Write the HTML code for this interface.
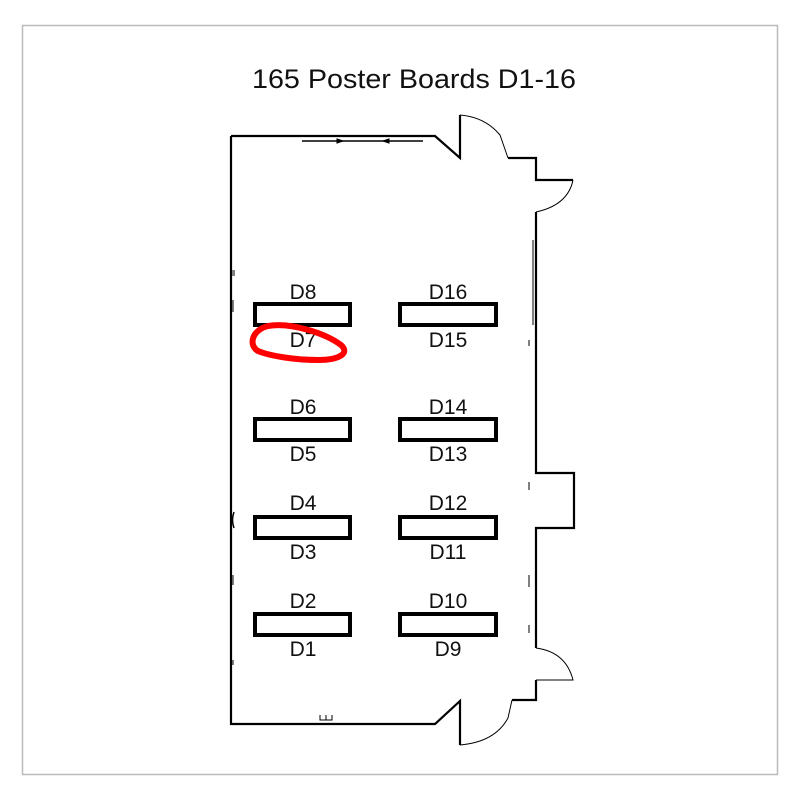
<!DOCTYPE html>
<html><head><meta charset="utf-8"><style>
html,body{margin:0;padding:0;background:#fff;}
svg{display:block}
text{font-family:"Liberation Sans",sans-serif;fill:#111}
</style></head><body>
<svg width="800" height="800" viewBox="0 0 800 800" xmlns="http://www.w3.org/2000/svg">
<rect x="22.5" y="25.5" width="755" height="749" fill="#fff" stroke="#bbb" stroke-width="1.5"/>
<text x="414" y="88" font-size="27" text-anchor="middle" textLength="324" lengthAdjust="spacingAndGlyphs">165 Poster Boards D1-16</text>
<g fill="none" stroke="#000" stroke-width="2.2" stroke-linejoin="miter">
<path d="M231,136 H435 L460,158 V115"/>
<path d="M508,158 H536 V180 H573"/>
<path d="M536,212 V473 H574 V528 H536 V648"/>
<path d="M536,680 V700 H512"/>
<path d="M460,745 V701 L435,724 H231 V136"/>
</g>
<g fill="none" stroke="#000" stroke-width="1">
<path d="M460,115 Q485,117 500,135 L508,158"/>
<path d="M573,180 Q568,205 536,212"/>
<path d="M536,648 Q566,652 573,680 H536"/>
<path d="M512,700 L508,718 Q495,742 460,745"/>
<path d="M533,240 V325"/>
<path d="M302,141 H423" stroke-width="1.5"/>
<path d="M343,141 l-6,-2 v4z M383,141 l6,-2 v4z" fill="#000"/>
<path d="M232,270 v6 M234,270 v6 M233,300 v12 M529,340 v6 M529,482 v8 M529,575 v12 M529,625 v8 M233,575 v10 M233,660 v5 M320,715 v5 h12 v-5 M326,715 v5"/>
<path d="M234,512 q-3,8 0,16" stroke-width="1.5"/>
</g>
<g fill="#fff" stroke="#000" stroke-width="4">
<rect x="255" y="304" width="95" height="21"/>
<rect x="400" y="304" width="96" height="21"/>
<rect x="255" y="419" width="95" height="21"/>
<rect x="400" y="419" width="96" height="21"/>
<rect x="255" y="517" width="95" height="21"/>
<rect x="400" y="517" width="96" height="21"/>
<rect x="255" y="614" width="95" height="21"/>
<rect x="400" y="614" width="96" height="21"/>
</g>
<g font-size="21" text-anchor="middle">
<text x="303" y="299">D8</text><text x="448" y="299">D16</text>
<text x="303" y="347">D7</text><text x="448" y="347">D15</text>
<text x="303" y="414">D6</text><text x="448" y="414">D14</text>
<text x="303" y="461">D5</text><text x="448" y="461">D13</text>
<text x="303" y="510">D4</text><text x="448" y="510">D12</text>
<text x="303" y="559">D3</text><text x="448" y="559">D11</text>
<text x="303" y="608">D2</text><text x="448" y="608">D10</text>
<text x="303" y="656">D1</text><text x="448" y="656">D9</text>
</g>
<path d="M268,326 C290,322 325,333 341,345 C350,353 340,360 318,360 C295,360 270,356 258,351 C248,345 252,330 268,326 Z" fill="none" stroke="#f00" stroke-width="6"/>
</svg>
</body></html>
